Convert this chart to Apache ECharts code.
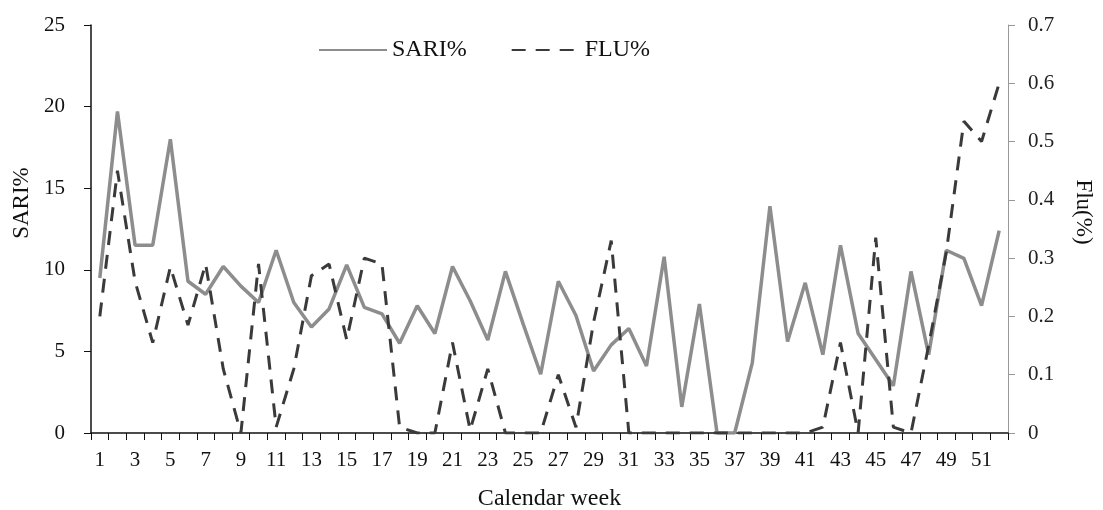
<!DOCTYPE html>
<html>
<head>
<meta charset="utf-8">
<script src="https://cdn.jsdelivr.net/npm/echarts@6/dist/echarts.min.js"></script>
<style>
    html, body { margin: 0; padding: 0; background: #fff; }
    #chart { width: 1103px; height: 510px; }
</style>
</head>
<body>
<div id="chart"></div>
<script>
// calendar weeks (categories)
const weeks = ['1', '2', '3', '4', '5', '6', '7', '8', '9', '10',
    '11', '12', '13', '14', '15', '16', '17', '18', '19', '20',
    '21', '22', '23', '24', '25', '26', '27', '28', '29', '30',
    '31', '32', '33', '34', '35', '36', '37', '38', '39', '40',
    '41', '42', '43', '44', '45', '46', '47', '48', '49', '50',
    '51', '52']

// SARI% per week (left axis)
const sari = [9.5, 19.7, 11.5, 11.5, 18.0, 9.3, 8.5, 10.2, 9.0, 8.0,
    11.2, 8.0, 6.5, 7.6, 10.3, 7.7, 7.3, 5.5, 7.8, 6.1,
    10.2, 8.1, 5.7, 9.9, 6.7, 3.6, 9.3, 7.2, 3.8, 5.4,
    6.4, 4.1, 10.8, 1.6, 7.9, 0, 0, 4.3, 13.9, 5.6,
    9.2, 4.8, 11.5, 6.1, 4.5, 2.9, 9.9, 4.8, 11.2, 10.7,
    7.8, 12.4]

// FLU% per week (right axis)
const flu = [0.20, 0.45, 0.26, 0.155, 0.285, 0.185, 0.29, 0.11, 0, 0.29,
    0.01, 0.11, 0.27, 0.29, 0.16, 0.30, 0.29, 0.01, 0, 0,
    0.155, 0.005, 0.11, 0, 0, 0, 0.10, 0.01, 0.19, 0.33,
    0, 0, 0, 0, 0, 0, 0, 0, 0, 0,
    0, 0.01, 0.155, 0, 0.335, 0.01, 0, 0.15, 0.31, 0.535,
    0.5, 0.6]

const font = 'Liberation Serif'
const chart = echarts.init(document.getElementById('chart'))

const option = {
    animation: false,
    backgroundColor: '#fff',
    textStyle: {fontFamily: font, color: '#111'},
    grid: {left: 91, right: 95, top: 25, bottom: 77, outerBoundsMode: 'none', containLabel: false},
    legend: {
        left: 313,
        top: 33,
        itemWidth: 68,
        itemHeight: 14,
        itemGap: 44,
        itemStyle: {opacity: 0},
        textStyle: {fontFamily: font, fontSize: 24, color: '#111'},
        data: ['SARI%', 'FLU%']
    },
    xAxis: {
        type: 'category',
        data: weeks,
        boundaryGap: true,
        name: 'Calendar week',
        nameLocation: 'middle',
        nameGap: 54,
        nameTextStyle: {fontFamily: font, fontSize: 24, color: '#111'},
        axisLine: {lineStyle: {color: '#111', width: 1.5}},
        axisTick: {show: true, interval: 0, length: 7, lineStyle: {color: '#111'}},
        axisLabel: {interval: 1, margin: 17, fontFamily: font, fontSize: 21, color: '#111'},
        splitLine: {show: false}
    },
    yAxis: [
        {
            type: 'value',
            min: 0,
            max: 25,
            interval: 5,
            name: 'SARI%',
            nameLocation: 'middle',
            nameRotate: 90,
            nameGap: 57,
            nameTextStyle: {fontFamily: font, fontSize: 23, color: '#111', padding: [0, 0, 0, 52]},
            axisLine: {show: true, lineStyle: {color: '#111', width: 1.5}},
            axisTick: {show: true, length: 7, lineStyle: {color: '#111'}},
            axisLabel: {margin: 26, fontFamily: font, fontSize: 21, color: '#111'},
            splitLine: {show: false}
        },
        {
            type: 'value',
            min: 0,
            max: 0.7,
            interval: 0.1,
            position: 'right',
            name: 'Flu(%)',
            nameLocation: 'middle',
            nameRotate: -90,
            nameGap: 64,
            nameTextStyle: {fontFamily: font, fontSize: 23, color: '#111', padding: [0, 34, 0, 0]},
            axisLine: {show: true, lineStyle: {color: '#999', width: 1}},
            axisTick: {show: true, length: 7, lineStyle: {color: '#999'}},
            axisLabel: {margin: 20, fontFamily: font, fontSize: 21, color: '#222'},
            splitLine: {show: false}
        }
    ],
    series: [
        {
            name: 'SARI%',
            type: 'line',
            yAxisIndex: 0,
            data: sari,
            symbol: 'none',
            lineStyle: {color: '#8d8d8d', width: 3.5},
            itemStyle: {color: '#8d8d8d'}
        },
        {
            name: 'FLU%',
            type: 'line',
            yAxisIndex: 1,
            data: flu,
            symbol: 'none',
            lineStyle: {color: '#3a3a3a', width: 3, type: [14, 10]},
            itemStyle: {color: '#3a3a3a'}
        }
    ]
}

chart.setOption(option)
</script>
</body>
</html>
